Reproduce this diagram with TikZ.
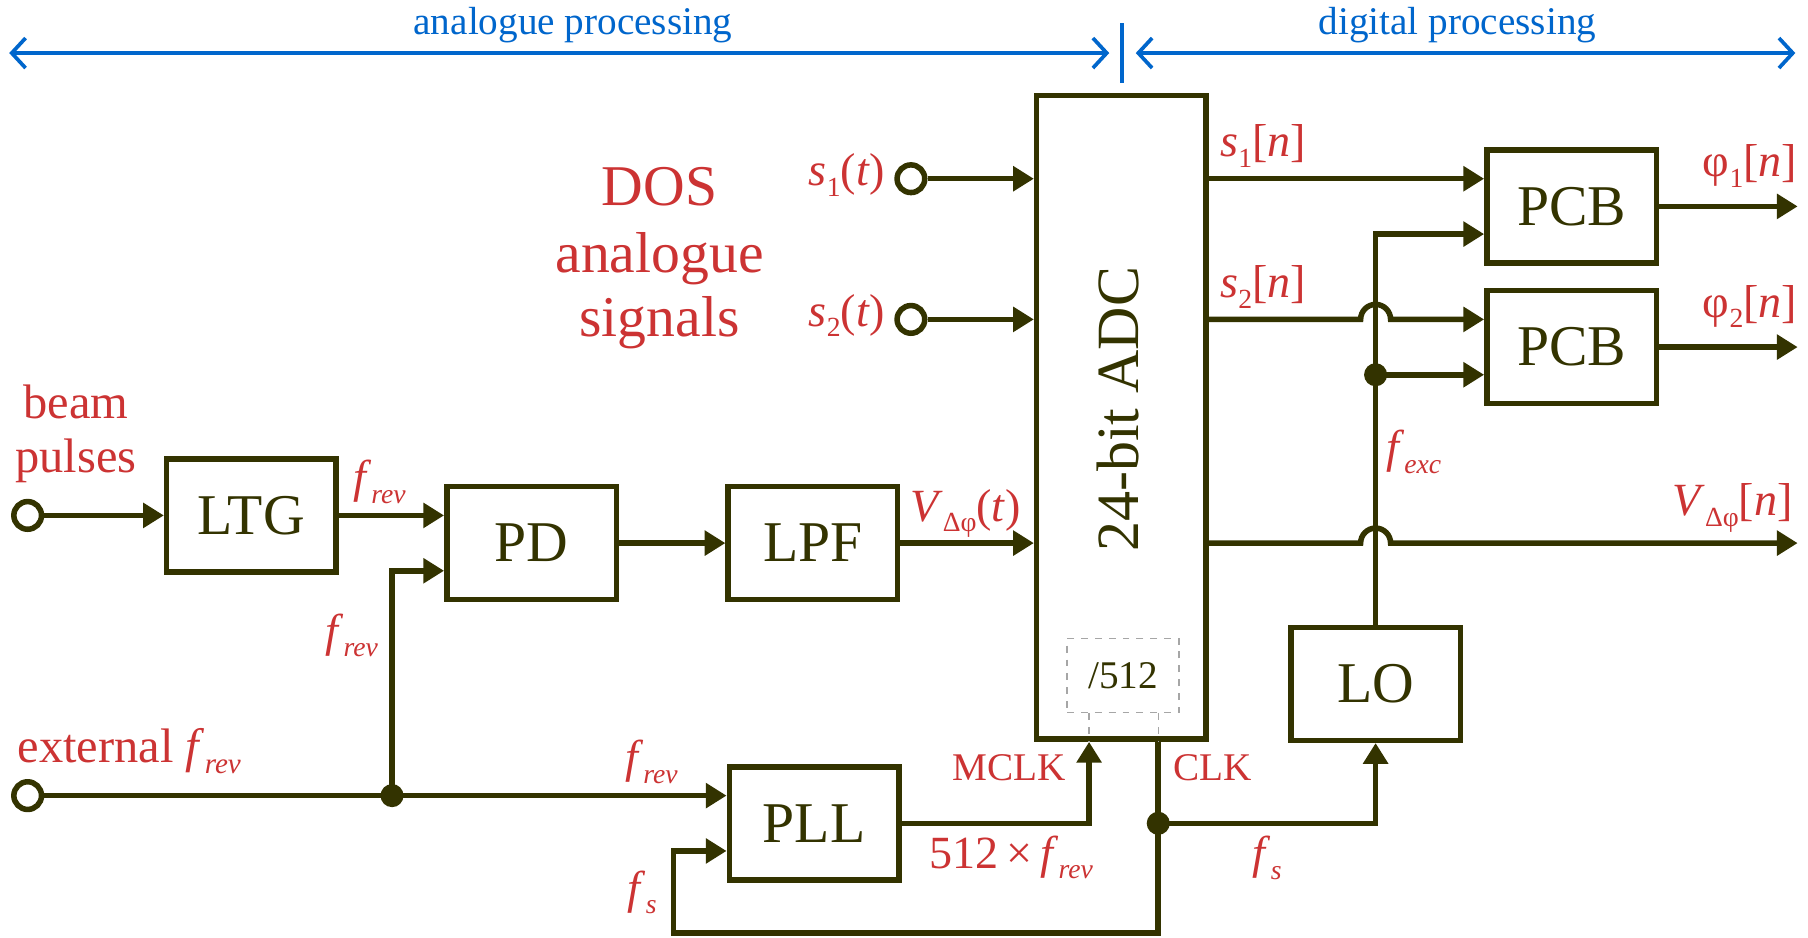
\documentclass[tikz,border=0pt]{standalone}
\usepackage{fontspec}
\setmainfont{Liberation Serif}
\usepackage{graphicx}
\usetikzlibrary{arrows.meta,calc}
\definecolor{ln}{RGB}{51,51,0}
\definecolor{rd}{RGB}{204,51,51}
\definecolor{bl}{RGB}{0,102,204}
\newcommand{\sbs}[1]{\raisebox{-0.5ex}{\scalebox{0.6}{#1}}}
\newcommand{\frev}{\textit{f}\sbs{\textit{rev}}}
\newcommand{\fsub}[1]{\textit{f}\sbs{\textit{#1}}}
\begin{document}
\begin{tikzpicture}[x=0.5pt,y=-0.5pt,
  wire/.style={draw=ln,line width=2.4pt},
  arr/.style={wire,-{Triangle[length=9pt,width=10.5pt]}},
  blk/.style={draw=ln,line width=2.4pt,minimum width=73.5pt,minimum height=49pt,inner sep=0pt,text=ln,font=\fontsize{25}{28}\selectfont},
  term/.style={circle,draw=ln,line width=2.4pt,fill=white,minimum size=12pt,inner sep=0pt},
  jdot/.style={circle,fill=ln,minimum size=10pt,inner sep=0pt},
  lbl/.style={text=rd,font=\fontsize{20}{24}\selectfont,inner sep=0pt},
  slbl/.style={text=rd,font=\fontsize{17}{20}\selectfont,inner sep=0pt},
  blbl/.style={text=bl,font=\fontsize{17}{20}\selectfont,inner sep=0pt},
  barrow/.style={draw=bl,line width=1.6pt,{Straight Barb[length=6pt,width=13pt]}-{Straight Barb[length=6pt,width=13pt]}}]
\useasboundingbox[fill=white] (0,0) rectangle (1568,813);

% blue range arrows
\coordinate (aL1) at (8,46);
\coordinate (aL2) at (962,46);
\coordinate (aR1) at (985,46);
\coordinate (aR2) at (1557,46);
\coordinate (tk1) at (973,20);
\coordinate (tk2) at (973,72);
\draw[barrow] (aL1) -- (aL2);
\draw[barrow] (aR1) -- (aR2);
\draw[draw=bl,line width=1.6pt] (tk1) -- (tk2);
\node[blbl,anchor=base] (tA) at (497,30) {analogue processing};
\node[blbl,anchor=base] (tD) at (1264,30) {digital processing};

% blocks
\node[blk] (LTG) at (218,447) {LTG};
\node[blk] (PD) at (461,471) {PD};
\node[blk] (LPF) at (705,471) {LPF};
\node[blk] (PLL) at (706,714) {PLL};
\node[blk] (LO) at (1193,593) {LO};
\node[blk] (PCB1) at (1363,179) {PCB};
\node[blk] (PCB2) at (1363,301) {PCB};
\node[blk,minimum height=279pt] (ADC) at (972.5,362) {};
\node[text=ln,font=\fontsize{26}{30}\selectfont,rotate=90,inner sep=0pt] (ADCt) at (970,355) {24-bit ADC};

% /512 dashed box
\node[draw=gray!70,dashed,line width=0.6pt,minimum width=48.5pt,minimum height=32pt,inner sep=0pt,text=ln,font=\fontsize{17}{20}\selectfont] (div) at (974,586) {/512};
\coordinate (mclk) at ($(ADC.south)+(-28,0)$);
\coordinate (clk) at ($(ADC.south)+(32,0)$);
\draw[draw=gray!70,dashed,line width=0.6pt] (div.south -| mclk) -- (mclk);
\draw[draw=gray!70,dashed,line width=0.6pt] (div.south -| clk) -- (clk);

% terminals
\node[term] (beam) at (24,447) {};
\node[term] (ext) at (24,690) {};
\node[term] (s1c) at (790,155) {};
\node[term] (s2c) at (790,277) {};

% junction coordinates
\coordinate (J1c) at (340,690);
\coordinate (J2c) at (clk |- PLL.east);
\coordinate (J3c) at (1193,325);
\coordinate (lp) at (584,809);
\coordinate (vout) at (1559,471);

% wires
\draw[arr] (beam) -- (LTG.west);
\draw[arr] (LTG.east) -- (LTG.east -| PD.west);
\draw[wire] (ext) -- (J1c);
\draw[arr] (J1c) -- ($(PLL.west)+(0,-24)$);
\draw[arr] (J1c) |- ($(PD.west)+(0,24)$);
\draw[arr] (PD.east) -- (LPF.west);
\draw[arr] (LPF.east) -- (LPF.east -| ADC.west);
\draw[arr] (s1c) -- (s1c -| ADC.west);
\draw[arr] (s2c) -- (s2c -| ADC.west);
\draw[arr] (PLL.east) -| (mclk);
\draw[wire] (clk) -- (J2c);
\draw[arr] (J2c) -| (LO.south);
\draw[arr] (J2c) |- (lp) |- ($(PLL.west)+(0,24)$);
\draw[arr] (LO.north) |- ($(PCB1.west)+(0,24)$);
\draw[arr] (J3c) -- ($(PCB2.west)+(0,24)$);
\draw[arr] (ADC.east |- s1c) -- (PCB1.west |- s1c);
\draw[arr] (ADC.east |- s2c) -- ($(LO.north |- s2c)+(-13,0)$) arc[start angle=180,end angle=0,radius=6.5pt] -- (PCB2.west |- s2c);
\draw[arr] (ADC.east |- LPF.east) -- ($(LO.north |- LPF.east)+(-13,0)$) arc[start angle=180,end angle=0,radius=6.5pt] -- (vout);
\draw[arr] (PCB1.east) -- (PCB1.east -| vout);
\draw[arr] (PCB2.east) -- (PCB2.east -| vout);

% junction dots
\node[jdot] (J1) at (J1c) {};
\node[jdot] (J2) at (J2c) {};
\node[jdot] (J3) at (J3c) {};

% labels
\node[lbl,font=\fontsize{25}{28}\selectfont,anchor=base] (dos1) at (572,178) {DOS};
\node[lbl,font=\fontsize{25}{28}\selectfont,anchor=base] (dos2) at (572,236) {analogue};
\node[lbl,font=\fontsize{25}{28}\selectfont,anchor=base] (dos3) at (572,292) {signals};
\node[lbl,font=\fontsize{21}{24}\selectfont,anchor=base] (bm1) at (66,363) {beam};
\node[lbl,font=\fontsize{21}{24}\selectfont,anchor=base] (bm2) at (66,410) {pulses};
\node[lbl,font=\fontsize{21}{24}\selectfont,anchor=base west] (extl) at (15,661) {external \frev};
\node[lbl,anchor=base east] (s1t) at (768,161) {\textit{s}\sbs{1}(\textit{t})};
\node[lbl,anchor=base east] (s2t) at (768,283) {\textit{s}\sbs{2}(\textit{t})};
\node[lbl,anchor=base west] (s1n) at (1058,136) {\textit{s}\sbs{1}[\textit{n}]};
\node[lbl,anchor=base west] (s2n) at (1058,258) {\textit{s}\sbs{2}[\textit{n}]};
\node[lbl,anchor=base east] (p1n) at (1559,153) {φ\sbs{1}[\textit{n}]};
\node[lbl,anchor=base east] (p2n) at (1559,275) {φ\sbs{2}[\textit{n}]};
\node[lbl,anchor=base east] (vn) at (1555,447) {\textit{V}\sbs{Δφ}[\textit{n}]};
\node[lbl,anchor=base west] (vt) at (789,452) {\textit{V}\sbs{Δφ}(\textit{t})};
\node[lbl] (fexc) at (1226,392) {\fsub{exc}};
\node[lbl] (fr1) at (329,418) {\frev};
\node[lbl] (fr2) at (305,551) {\frev};
\node[lbl] (fr3) at (565,661) {\frev};
\node[lbl] (fs1) at (557,774) {\fsub{s}};
\node[lbl] (fs2) at (1099,744) {\fsub{s}};
\node[slbl,anchor=base east] (mclkl) at (925,677) {MCLK};
\node[slbl,anchor=base west] (clkl) at (1017,677) {CLK};
\node[lbl,anchor=base west] (mul) at (806,753) {512\,×\,\frev};
\end{tikzpicture}
\end{document}
